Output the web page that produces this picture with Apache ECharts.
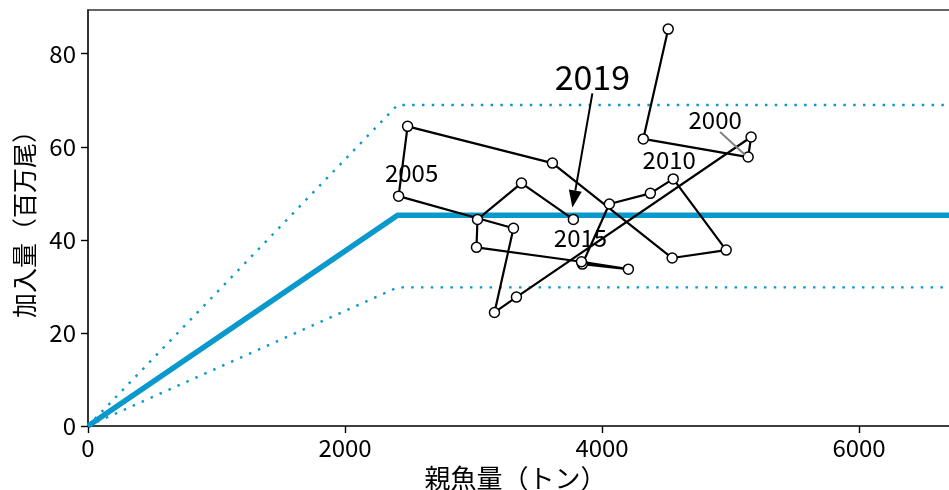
<!DOCTYPE html>
<html><head><meta charset="utf-8">
<script src="https://cdn.jsdelivr.net/npm/echarts@6/dist/echarts.min.js"></script>
<style>html,body{margin:0;padding:0;background:#fff}#c{width:949px;height:490px}</style>
</head><body><div id="c"></div>
<script>
// Trajectory (year, spawning stock biomass in t, recruits in million fish)
const years = [1998,1999,2000,2001,2002,2003,2004,2005,2006,2007,2008,2009,2010,2011,2012,2013,2014,2015,2016,2017,2018,2019];
const ssb   = [4515,4321,5137,5160,3334,3163,3311,2417,2487,3614,4546,4966,4554,4376,4057,3847,4205,3840,3023,3031,3373,3777];
const rec   = [85.3,61.7,57.8,62.1,27.7,24.4,42.5,49.4,64.4,56.5,36.1,37.8,53.1,50.0,47.7,34.8,33.7,35.3,38.4,44.4,52.2,44.4];

// Hockey-stick stock-recruitment relation and its bounds
const hcrSSB   = [0, 2409, 7000];
const hcrMid   = [0, 45.3, 45.3];
const hcrUpper = [0, 69.0, 69.0];
const hcrLower = [0, 29.8, 29.8];

// Axis ticks
const xTicks = [0, 2000, 4000, 6000];
const yTicks = [0, 20, 40, 60, 80];
const labeledYears = [2000, 2005, 2010, 2015, 2019];

const FONT = "'Noto Sans CJK JP', 'Noto Sans', sans-serif";
const BLUE = '#0a99cc';

const zip = (xs, ys) => xs.map((x, i) => [x, ys[i]]);

// label offsets (pixels) relative to the labelled point
const labelStyle = {
  2000: {offset: [-33, -37], fontSize: 24},
  2005: {offset: [13, -23], fontSize: 24},
  2010: {offset: [-4, -19], fontSize: 24},
  2015: {offset: [-1, -24], fontSize: 24},
  2019: {offset: [19, -142], fontSize: 34}
};

const trajData = years.map((y, i) => {
  const item = {value: [ssb[i], rec[i]]};
  if (labeledYears.includes(y)) {
    const s = labelStyle[y];
    item.label = {show: true, position: 'inside', formatter: String(y),
      offset: s.offset, fontSize: s.fontSize, color: '#000', fontFamily: FONT};
  }
  return item;
});

const chart = echarts.init(document.getElementById('c'), null, {renderer: 'canvas'});
const axisCommon = {
  type: 'value',
  axisLine: {show: true, lineStyle: {color: '#000', width: 1.6}},
  axisTick: {show: true, inside: false, length: 7, lineStyle: {color: '#000', width: 1.4}},
  axisLabel: {color: '#000', fontSize: 24, fontFamily: FONT, formatter: v => String(v)},
  splitLine: {show: false}
};
chart.setOption({
  animation: false,
  backgroundColor: '#fff',
  grid: {left: 88, right: 0, top: 10, bottom: 64, containLabel: false, outerBoundsMode: 'none'},
  xAxis: [
    Object.assign({}, axisCommon, {
      min: 0, max: 6700, interval: 2000,
      axisTick: Object.assign({}, axisCommon.axisTick, {customValues: xTicks}),
      axisLabel: Object.assign({}, axisCommon.axisLabel, {customValues: xTicks, margin: 10}),
      name: '親魚量（トン）', nameLocation: 'middle', nameGap: 36,
      nameTextStyle: {color: '#000', fontSize: 26, fontFamily: FONT, padding: [0, 6, 0, 0]}
    }),
    {type: 'value', position: 'top', min: 0, max: 6700,
      axisLine: {show: true, onZero: false, lineStyle: {color: '#333', width: 1.6}},
      axisTick: {show: false}, axisLabel: {show: false}, splitLine: {show: false}}
  ],
  yAxis: Object.assign({}, axisCommon, {
    min: 0, max: 89.4, interval: 20,
    axisTick: Object.assign({}, axisCommon.axisTick, {customValues: yTicks}),
    axisLabel: Object.assign({}, axisCommon.axisLabel, {customValues: yTicks, margin: 12}),
    name: '加入量（百万尾）', nameLocation: 'middle', nameGap: 51,
    nameTextStyle: {color: '#000', fontSize: 25, fontFamily: FONT}
  }),
  series: [
    {type: 'line', data: zip(hcrSSB, hcrUpper), symbol: 'none', clip: true,
      lineStyle: {color: BLUE, width: 2.4, type: [2.5, 7.3]}, z: 1},
    {type: 'line', data: zip(hcrSSB, hcrLower), symbol: 'none', clip: true,
      lineStyle: {color: BLUE, width: 2.4, type: [2.5, 7.3]}, z: 1},
    {type: 'line', data: zip(hcrSSB, hcrMid), symbol: 'none', clip: true,
      lineStyle: {color: BLUE, width: 5.5}, z: 2},
    {type: 'line', data: trajData, symbol: 'circle', symbolSize: 10,
      itemStyle: {color: '#fff', borderColor: '#000', borderWidth: 1.5},
      lineStyle: {color: '#000', width: 2.2}, z: 3, clip: false}
  ]
});

// annotation arrow (2019) and leader line (2000), placed relative to their points
function drawAnnotations() {
  const iJ = years.indexOf(2019), iC = years.indexOf(2000);
  const pJ = chart.convertToPixel({gridIndex: 0}, [ssb[iJ], rec[iJ]]);
  const pC = chart.convertToPixel({gridIndex: 0}, [ssb[iC], rec[iC]]);
  const start = [pJ[0] + 19, pJ[1] - 126];
  const tip = [pJ[0] - 1, pJ[1] - 12];
  const dx = tip[0] - start[0], dy = tip[1] - start[1];
  const L = Math.hypot(dx, dy), ux = dx / L, uy = dy / L;
  const hl = 17, hw = 6.5;
  const base = [tip[0] - ux * hl, tip[1] - uy * hl];
  chart.setOption({
    graphic: [
      {type: 'line', shape: {x1: start[0], y1: start[1], x2: base[0], y2: base[1]},
        style: {stroke: '#000', lineWidth: 2}, z: 10},
      {type: 'polygon', shape: {points: [tip,
        [base[0] - uy * hw, base[1] + ux * hw], [base[0] + uy * hw, base[1] - ux * hw]]},
        style: {fill: '#000'}, z: 10},
      {type: 'line', shape: {x1: pC[0] - 28, y1: pC[1] - 25, x2: pC[0] - 3, y2: pC[1] - 2},
        style: {stroke: '#808080', lineWidth: 2}, z: 10}
    ]
  });
}
drawAnnotations();
</script>
</body></html>
